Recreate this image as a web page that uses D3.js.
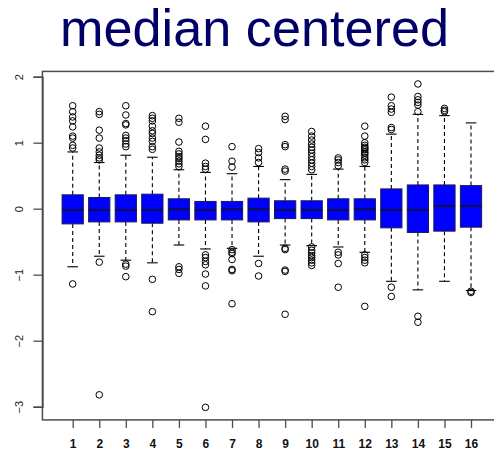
<!DOCTYPE html>
<html>
<head>
<meta charset="utf-8">
<script src="https://cdn.jsdelivr.net/npm/d3@7/dist/d3.min.js"></script>
<style>
  html, body { margin: 0; padding: 0; background: #fff; }
  svg { display: block; }
</style>
</head>
<body>
<svg id="chart" width="494" height="451"></svg>
<script>
// Per-group box statistics (median centered values)
const groups   = [1, 2, 3, 4, 5, 6, 7, 8, 9, 10, 11, 12, 13, 14, 15, 16];
const medians  = [-0.02, -0.02, -0.02, -0.02, -0.01, -0.02, -0.01, -0.01, -0.02, -0.02, -0.02, -0.01, -0.02, -0.02, 0.04, 0.04];
const q1       = [-0.23, -0.20, -0.20, -0.22, -0.17, -0.17, -0.17, -0.20, -0.15, -0.15, -0.17, -0.17, -0.29, -0.36, -0.34, -0.28];
const q3       = [0.21, 0.17, 0.21, 0.22, 0.15, 0.11, 0.11, 0.16, 0.12, 0.12, 0.15, 0.15, 0.30, 0.36, 0.36, 0.35];
const whiskLo  = [-0.88, -0.72, -0.78, -0.82, -0.55, -0.61, -0.60, -0.72, -0.55, -0.56, -0.58, -0.66, -1.10, -1.23, -1.10, -1.24];
const whiskHi  = [0.86, 0.70, 0.81, 0.78, 0.59, 0.55, 0.53, 0.64, 0.44, 0.52, 0.60, 0.64, 1.13, 1.43, 1.41, 1.30];
const outliers = [
  [1.56, 1.47, 1.39, 1.33, 1.24, 1.10, 1.07, 0.96, 0.92, -1.14],
  [1.47, 1.43, 1.19, 1.07, 0.92, 0.86, 0.81, 0.77, 0.74, -0.81, -2.82],
  [1.56, 1.42, 1.29, 1.27, 1.11, 1.07, 1.03, 0.98, 0.94, -0.84, -0.87, -1.03],
  [1.41, 1.37, 1.33, 1.25, 1.18, 1.14, 1.07, 1.02, 0.94, 0.90, -1.07, -1.56],
  [1.37, 1.31, 1.01, 0.87, 0.83, 0.79, 0.76, 0.72, 0.68, 0.64, -0.88, -0.92, -0.98],
  [1.25, 1.05, 0.69, 0.64, 0.60, -0.70, -0.74, -0.80, -0.85, -0.99, -1.17, -3.01],
  [0.94, 0.72, 0.63, -0.62, -0.66, -0.68, -0.77, -0.92, -0.94, -1.44],
  [0.91, 0.85, 0.77, 0.70, -0.83, -1.02],
  [1.40, 1.35, 0.97, 0.94, 0.60, 0.57, -0.60, -0.62, -0.93, -0.95, -1.60],
  [1.17, 1.10, 1.04, 0.98, 0.93, 0.89, 0.84, 0.79, 0.74, 0.69, 0.64, 0.59, -0.58, -0.63, -0.67, -0.71, -0.74, -0.78, -0.82, -0.86],
  [0.77, 0.74, 0.70, 0.65, -0.66, -0.70, -0.83, -1.19],
  [1.25, 1.10, 1.00, 0.96, 0.93, 0.91, 0.89, 0.86, 0.84, 0.81, 0.77, 0.74, 0.70, -0.70, -0.74, -0.78, -0.82, -1.48],
  [1.69, 1.56, 1.51, 1.46, 1.23, 1.20, -1.19, -1.33],
  [1.89, 1.70, 1.65, 1.61, 1.57, 1.47, -1.63, -1.72],
  [1.52, 1.49, 1.47],
  [-1.25, -1.27]
];
const yTicks = [-3, -2, -1, 0, 1, 2];
const titleText = "median centered";

const svg = d3.select("#chart");

const x = d3.scaleLinear().domain([1, 16]).range([72.7, 471]);
const y = d3.scaleLinear().domain([-3, 2]).range([406.7, 76.7]);

const xMin = -0.14, xMax = 17.14, yMin = -3.2, yMax = 2.08;
const boxW = x(1.8) - x(1);      // box width = 0.8 group units
const capW = boxW * 0.5;

// Title
svg.append("text")
  .attr("x", 60).attr("y", 46)
  .attr("textLength", 389).attr("lengthAdjust", "spacingAndGlyphs")
  .attr("font-family", "Liberation Sans, Arial, sans-serif")
  .attr("font-size", 52)
  .attr("fill", "#000066")
  .text(titleText);

// Plot frame (top, left and bottom edges; the right edge lies past the canvas)
const frameColor = "#4d4d4d";
svg.append("rect")
  .attr("x", x(xMin)).attr("y", y(yMax))
  .attr("width", x(xMax) - x(xMin)).attr("height", y(yMin) - y(yMax))
  .attr("fill", "none").attr("stroke", frameColor).attr("stroke-width", 1.5);

// Y axis
const yAxis = d3.axisLeft(y).tickValues(yTicks).tickSize(9).tickFormat(d3.format("d"));
const gy = svg.append("g").attr("transform", `translate(${x(xMin)},0)`).call(yAxis);
gy.select(".domain").attr("stroke", frameColor).attr("stroke-width", 1.5);
gy.selectAll(".tick line").attr("stroke", frameColor).attr("stroke-width", 1.3);
gy.selectAll(".tick text")
  .attr("font-family", "Liberation Sans, Arial, sans-serif")
  .attr("font-size", 11).attr("fill", "#222")
  .attr("x", 0).attr("dy", 0)
  .attr("text-anchor", "middle")
  .attr("transform", "translate(-19,0) rotate(-90)");

// X axis
const xAxis = d3.axisBottom(x).tickValues(groups).tickSize(8).tickFormat(d3.format("d"));
const gx = svg.append("g").attr("transform", `translate(0,${y(yMin)})`).call(xAxis);
gx.select(".domain").remove();
gx.selectAll(".tick line").attr("stroke", frameColor).attr("stroke-width", 1.3);
gx.selectAll(".tick text")
  .attr("font-family", "Liberation Sans, Arial, sans-serif")
  .attr("font-size", 12).attr("font-weight", "bold").attr("fill", "#111")
  .attr("y", 28).attr("dy", 0);

// Boxes
const g = svg.append("g");
groups.forEach((grp, i) => {
  const cx = x(grp);
  // dashed whiskers
  g.append("line")
    .attr("x1", cx).attr("x2", cx)
    .attr("y1", y(q3[i])).attr("y2", y(whiskHi[i]))
    .attr("stroke", "#000").attr("stroke-width", 1.1).attr("stroke-dasharray", "4,3");
  g.append("line")
    .attr("x1", cx).attr("x2", cx)
    .attr("y1", y(q1[i])).attr("y2", y(whiskLo[i]))
    .attr("stroke", "#000").attr("stroke-width", 1.1).attr("stroke-dasharray", "4,3");
  // caps
  [whiskHi[i], whiskLo[i]].forEach(v => {
    g.append("line")
      .attr("x1", cx - capW / 2).attr("x2", cx + capW / 2)
      .attr("y1", y(v)).attr("y2", y(v))
      .attr("stroke", "#000").attr("stroke-width", 1.1);
  });
  // box
  g.append("rect")
    .attr("x", cx - boxW / 2).attr("y", y(q3[i]))
    .attr("width", boxW).attr("height", y(q1[i]) - y(q3[i]))
    .attr("fill", "#0000ff").attr("stroke", "#1a1a5a").attr("stroke-width", 1);
  // median
  g.append("line")
    .attr("x1", cx - boxW / 2).attr("x2", cx + boxW / 2)
    .attr("y1", y(medians[i])).attr("y2", y(medians[i]))
    .attr("stroke", "#101040").attr("stroke-width", 2);
  // outliers
  g.selectAll(null).data(outliers[i]).enter().append("circle")
    .attr("cx", cx).attr("cy", d => y(d)).attr("r", 3.3)
    .attr("fill", "none").attr("stroke", "#000").attr("stroke-width", 1);
});
</script>
</body>
</html>
